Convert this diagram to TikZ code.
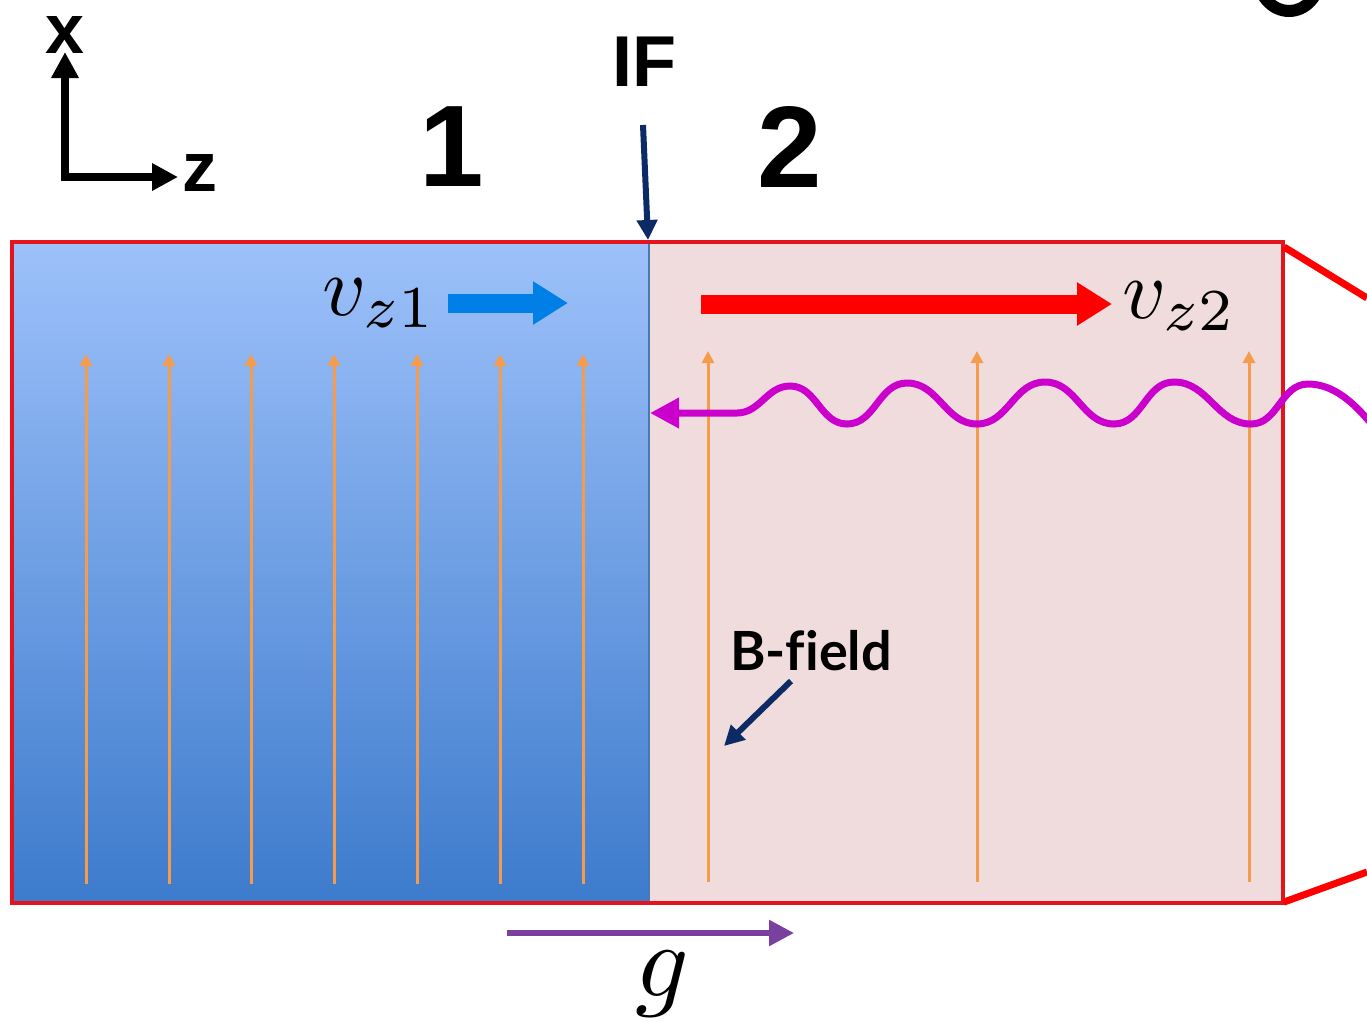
\documentclass[tikz,border=0pt]{standalone}
\usepackage{fontspec}
\newfontfamily\arialf{Liberation Sans}
\newfontfamily\latof{Lato}[Ligatures=NoCommon]
\usetikzlibrary{arrows.meta}
\definecolor{blueTop}{HTML}{9DC1FA}
\definecolor{blueBot}{HTML}{3D7BCC}
\definecolor{pinkbg}{HTML}{F0DCDC}
\definecolor{boxred}{HTML}{E3141E}
\definecolor{fieldorange}{HTML}{F59C4C}
\definecolor{navy}{HTML}{0C2A64}
\definecolor{vblue}{HTML}{0080E6}
\definecolor{vred}{HTML}{FF0000}
\definecolor{wavec}{HTML}{CC00CC}
\definecolor{gpurple}{HTML}{7A40A0}
\definecolor{divider}{HTML}{4A78B0}
\tikzset{
  field/.style={draw=fieldorange, line width=3pt, -{Triangle[length=12pt,width=12pt]}},
  axis/.style={line width=8pt, {Triangle[length=26pt,width=26pt]}-{Triangle[length=26pt,width=26pt]}},
  pointer/.style={draw=navy, line width=6pt, -{Triangle[length=20pt,width=20pt]}},
  bigarrow/.style={line width=19pt, -{Triangle[length=35pt,width=41pt]}},
  boldsans/.style={font=\arialf\bfseries, inner sep=0pt, text=black},
  mathlbl/.style={inner sep=0pt},
}
\begin{document}
\begin{tikzpicture}[x=1pt,y=-1pt]
\useasboundingbox (0,0) rectangle (1367,1021);
% regions
\shade[top color=blueTop, bottom color=blueBot] (12,242) rectangle (649,903);
\fill[pinkbg] (649,242) rectangle (1283,903);
\draw[divider, line width=2.5pt] (649,242) -- (649,903);
\draw[boxred, line width=3.5pt] (12,242) rectangle (1283,903);
% red lines to the right
\draw[vred, line width=7pt] (1284,247) -- (1367,298);
\draw[vred, line width=7pt] (1284,902) -- (1367,872);
% partial glyph top right
\begin{scope}
\clip (1200,0) rectangle (1367,40);
\fill[black, even odd rule] (1289,-24) ellipse [x radius=37, y radius=41]
                            (1289,-24) ellipse [x radius=25, y radius=29];
\end{scope}
% field lines
\foreach \xx in {86,169,251,334,417,500,583} {
  \coordinate (fb\xx) at (\xx,884);
  \coordinate (ft\xx) at (\xx,354);
  \draw[field] (fb\xx) -- (ft\xx);
}
\foreach \xx in {708,977,1249} {
  \coordinate (fb\xx) at (\xx,882);
  \coordinate (ft\xx) at (\xx,351);
  \draw[field] (fb\xx) -- (ft\xx);
}
% axes
\coordinate (xtip) at (65,52);
\coordinate (ztip) at (178,177);
\draw[axis] (xtip) |- (ztip);
\node[boldsans, font=\fontsize{70}{70}\arialf\bfseries] (xlbl) at (65,35) {x};
\node[boldsans, font=\fontsize{70}{70}\arialf\bfseries] (zlbl) at (200,173) {z};
% region labels
\node[boldsans, font=\fontsize{116}{116}\arialf\bfseries] (one) at (452,147) {1};
\node[boldsans, font=\fontsize{116}{116}\arialf\bfseries] (two) at (790,147) {2};
\node[boldsans, font=\fontsize{72}{72}\arialf\bfseries] (iflbl) at (644,62) {IF};
\coordinate (ifstart) at (643,125);
\coordinate (ifend) at (648,240);
\draw[pointer] (ifstart) -- (ifend);
% velocities
\node[mathlbl, anchor=base west] (vz1) at (322,315) {\scalebox{8.5}{$v_{z1}$}};
\coordinate (v1s) at (448,303);
\coordinate (v1e) at (568,303);
\draw[bigarrow, vblue] (v1s) -- (v1e);
\coordinate (v2s) at (701,304);
\coordinate (v2e) at (1112,304);
\draw[bigarrow, vred] (v2s) -- (v2e);
\node[mathlbl, anchor=base west] (vz2) at (1122,318) {\scalebox{8.5}{$v_{z2}$}};
% wave
\coordinate (wtip) at (650,413);
\draw[wavec, line width=7pt, line cap=round, {Triangle[length=29pt,width=29pt]}-]
  (wtip) -- (737,413)
  to[out=0,in=180] (790,386)
  to[out=0,in=180] (847,424)
  to[out=0,in=180] (907,383)
  to[out=0,in=180] (977,424)
  to[out=0,in=180] (1045,382)
  to[out=0,in=180] (1114,424)
  to[out=0,in=180] (1174,382)
  to[out=0,in=180] (1251,424)
  to[out=0,in=180] (1308,384)
  .. controls (1335,384) and (1355,405) .. (1369,421);
% B-field
\node[font=\fontsize{54}{54}\latof\bfseries, inner sep=0pt, anchor=base west] (blbl) at (730,670) {B-field};
\coordinate (bstart) at (791,681);
\coordinate (bend) at (724,746);
\draw[pointer] (bstart) -- (bend);
% g
\coordinate (gs) at (507,933);
\coordinate (ge) at (794,933);
\draw[gpurple, line width=5.5pt, -{Triangle[length=25pt,width=25pt]}] (gs) -- (ge);
\node[mathlbl, anchor=base] (glbl) at (662,996) {\scalebox{10.5}{$g$}};
\end{tikzpicture}
\end{document}
